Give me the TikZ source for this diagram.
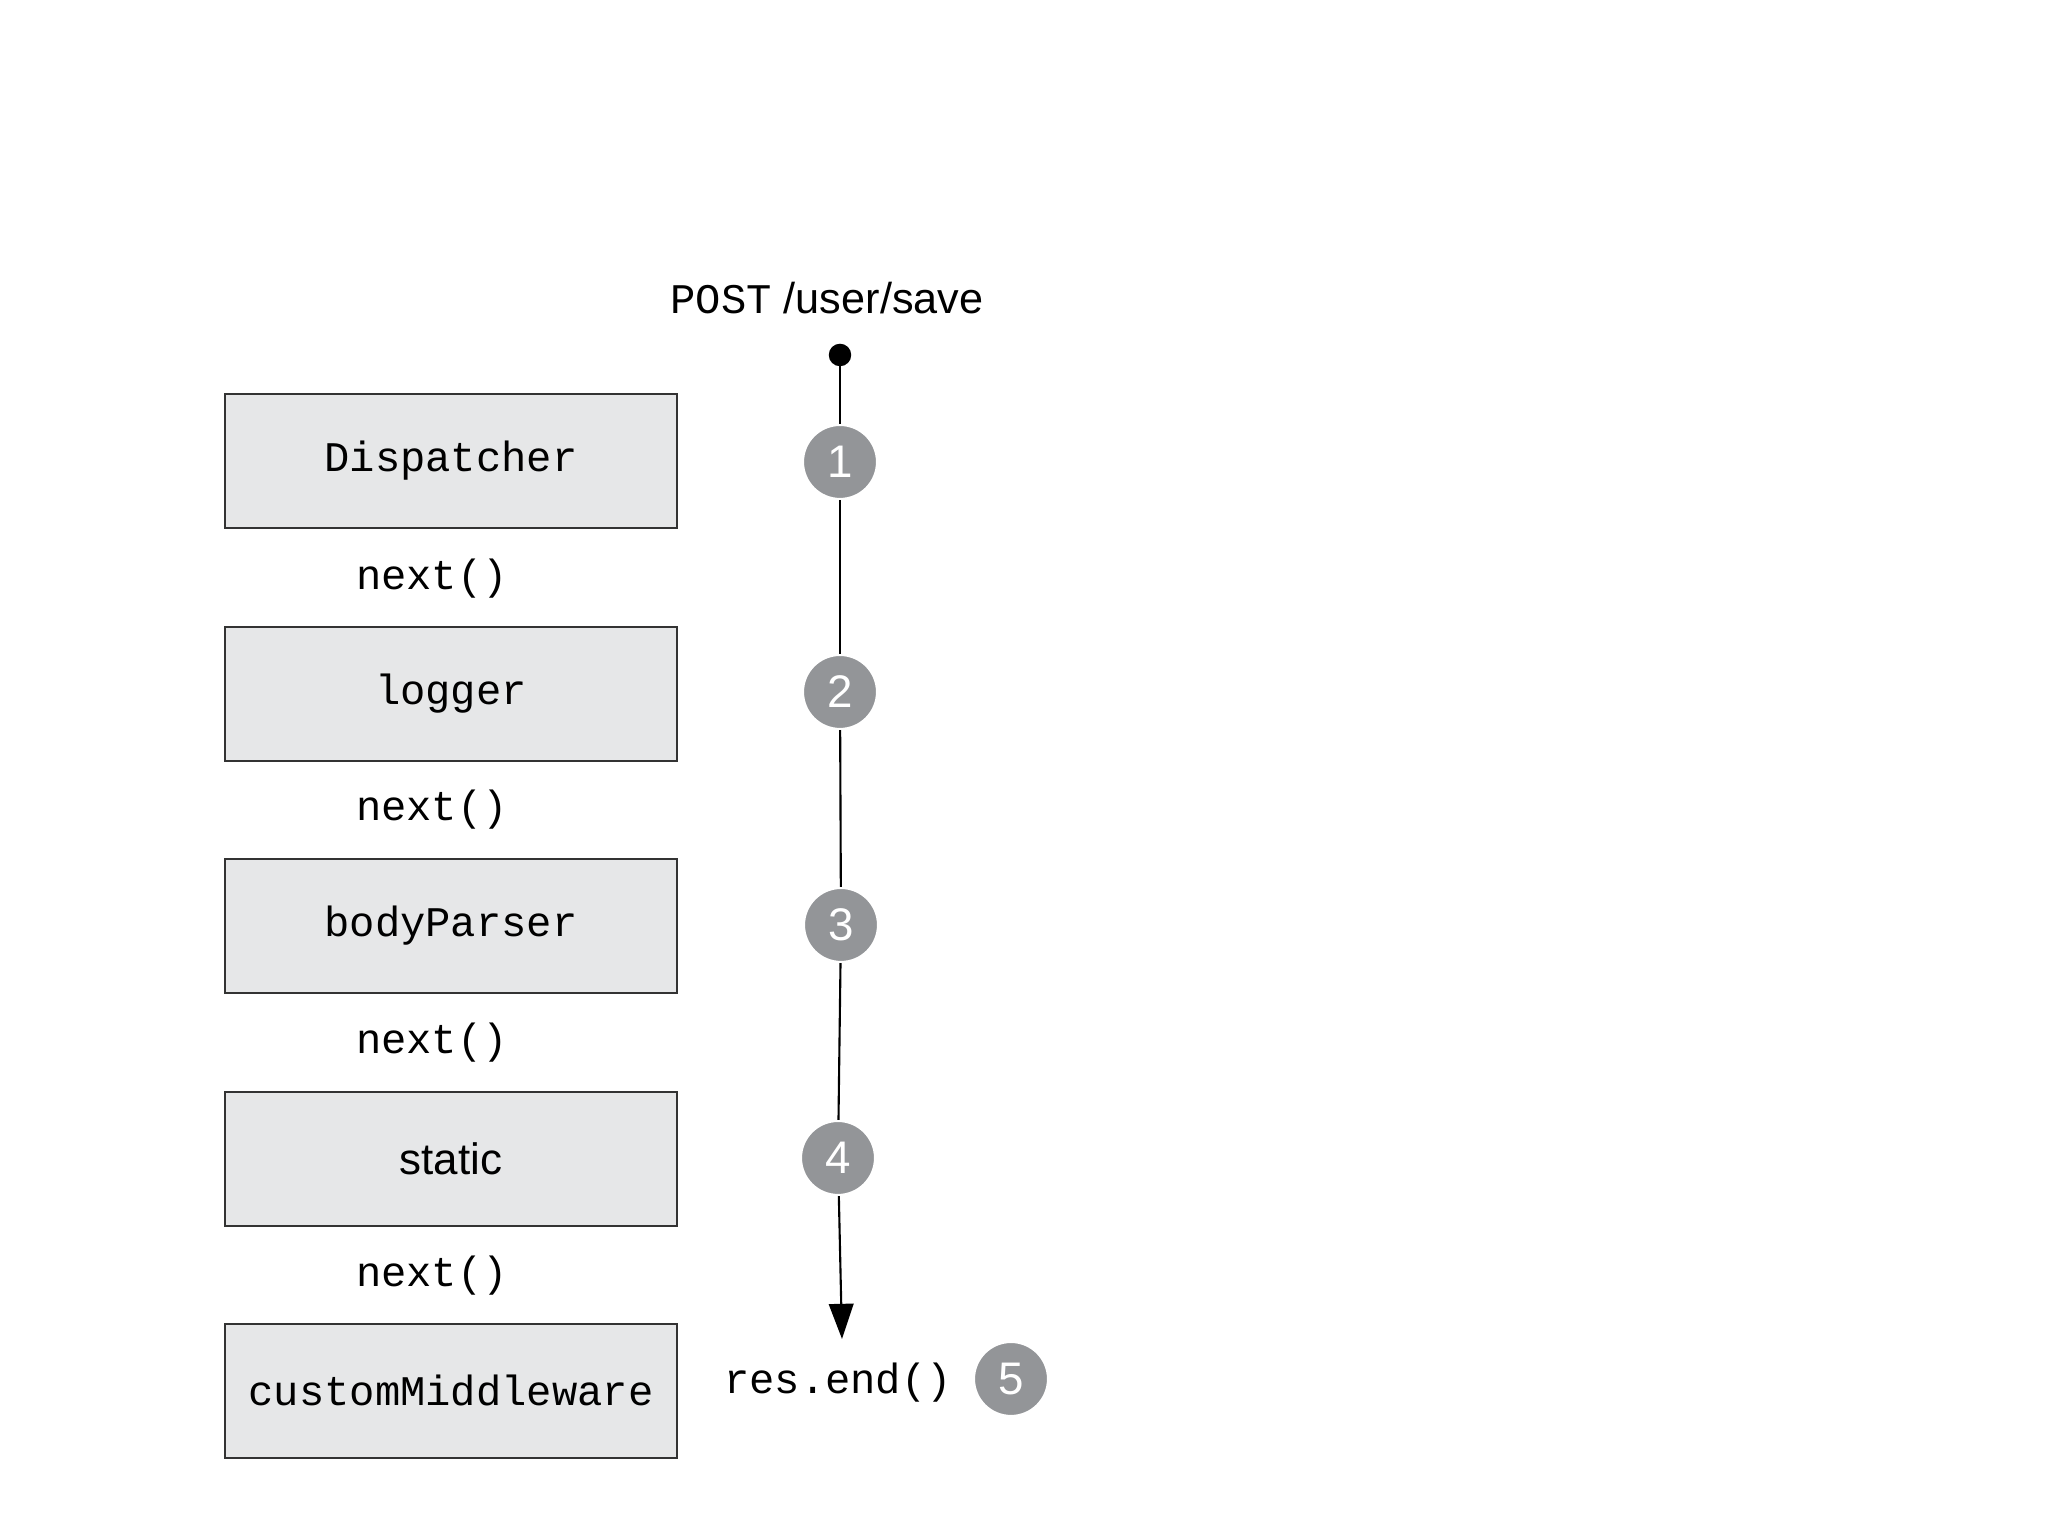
\documentclass[tikz,border=0pt]{standalone}
\usepackage{fontspec}
\setmainfont{Liberation Sans}
\setsansfont{Liberation Sans}
\setmonofont{Liberation Mono}
\usepackage{tikz}
\usetikzlibrary{arrows.meta}
\definecolor{boxgray}{HTML}{E6E7E8}
\definecolor{stepgray}{HTML}{939598}

\tikzset{
  mw/.style={draw=black!80, line width=0.45pt, fill=boxgray, minimum width=4.52cm,
    minimum height=1.34cm, font=\fontsize{12}{14}\selectfont\ttfamily},
  nxt/.style={font=\fontsize{12}{14}\selectfont\ttfamily},
  stepnum/.style={circle, fill=stepgray, draw=white, line width=0.6pt, minimum size=0.74cm,
    inner sep=0pt, text=white, font=\fontsize{13}{15}\selectfont\sffamily}
}

\begin{document}
\begin{tikzpicture}[>={Triangle[length=10pt,width=7pt]}]

\useasboundingbox (0,0) rectangle (20.48,15.36);

% Middleware

\node[mw] (disp) at (4.51,10.75) {Dispatcher};

\node[mw] (logger) at (4.51,8.42) {logger};

\node[mw] (body) at (4.51,6.10) {bodyParser};

\node[mw, font=\fontsize{12.5}{15}\selectfont\sffamily] (static) at (4.51,3.77) {static};

\node[mw] (custom) at (4.51,1.45) {customMiddleware};

% next()

\node[nxt] (n1) at (4.32,9.57) {next()};

\node[nxt] (n2) at (4.32,7.26) {next()};

\node[nxt] (n3) at (4.32,4.93) {next()};

\node[nxt] (n4) at (4.32,2.60) {next()};

% Request

\node (req) at (8.27,12.38) {\fontsize{12}{14}\selectfont\ttfamily POST\hspace{0.12cm}\fontsize{12.3}{15}\selectfont\sffamily/user/save};

\coordinate (start) at (8.40,11.81);

\coordinate (stop) at (8.42,1.97);

\node[stepnum] (s1) at (8.40,10.74) {1};

\node[stepnum] (s2) at (8.40,8.44) {2};

\node[stepnum] (s3) at (8.41,6.11) {3};

\node[stepnum] (s4) at (8.38,3.78) {4};

\fill (start) circle (3.2pt);

\draw[line width=0.6pt] (start) -- (s1);

\draw[line width=0.6pt] (s1) -- (s2);

\draw[line width=0.6pt] (s2) -- (s3);

\draw[line width=0.6pt] (s3) -- (s4);

\draw[->, line width=0.6pt] (s4) -- (stop);

% Response

\node[nxt] (res) at (8.38,1.53) {res.end()};

\node[stepnum] (s5) at (10.11,1.57) {5};

\end{tikzpicture}
\end{document}
